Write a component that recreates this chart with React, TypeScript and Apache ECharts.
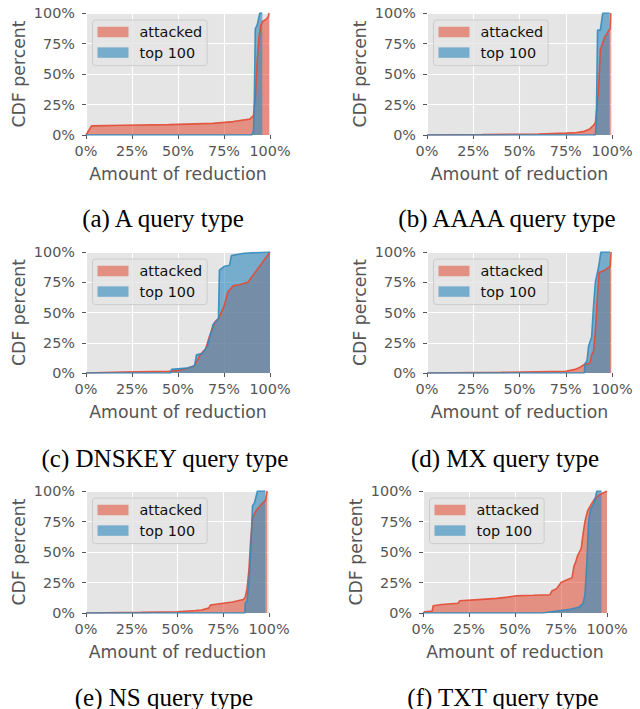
import React, { useEffect, useRef } from "react";
import * as echarts from "echarts";

// ---- data (x = amount of reduction %, y = CDF %) ----
const tickValues = [0, 25, 50, 75, 100];
const seriesNames = ["attacked", "top 100"];
const captions = [
  "(a) A query type",
  "(b) AAAA query type",
  "(c) DNSKEY query type",
  "(d) MX query type",
  "(e) NS query type",
  "(f) TXT query type",
];

const aAttacked = [[0, 0], [3, 7.5], [20, 8], [45, 8.5], [69, 9.5], [80, 11], [89, 13], [91, 16], [92, 30], [93, 60], [94, 80], [95, 90], [96, 93], [98, 95], [99, 97], [99.5, 100]];
const aTop = [[0, 0], [90, 0], [91, 3], [91.5, 30], [92, 87], [93, 90], [94.5, 100], [95.8, 100]];

const bAttacked = [[0, 0], [30, 0.3], [60, 0.8], [75, 1.5], [81, 2], [85, 3], [88, 5], [90, 8], [91, 10], [92, 25], [93, 45], [93.7, 70], [96, 80], [98, 85], [99, 87], [99.3, 100]];
const bTop = [[0, 0], [91, 0], [91.5, 10], [92.2, 86], [93.7, 86], [95, 100], [98.7, 100]];

const cAttacked = [[0, 0], [20, 0.8], [45, 1.5], [50, 2], [55, 4], [59, 6], [62, 15], [65, 20], [67, 30], [70, 42], [72, 45], [75, 55], [77, 67], [80, 72], [83, 73], [88, 75], [100, 100]];
const cTop = [[0, 0], [46, 0], [46.5, 3], [55, 4], [59, 6], [60, 15], [63, 16], [66, 22], [69, 40], [72, 45], [72.5, 85], [75, 88], [78, 89], [79, 97], [82, 98], [86, 99], [100, 100]];

const dAttacked = [[0, 0], [40, 0.5], [75, 1.5], [80, 3], [83, 5], [85, 7], [88, 8], [89, 15], [90, 18], [91, 35], [92, 60], [93, 83], [96, 85], [99, 88], [99.5, 100]];
const dTop = [[0, 0], [85, 0], [85.5, 8], [86.5, 10], [87.3, 22], [89, 30], [90, 55], [91, 75], [92.8, 88], [94, 100], [99, 100]];

const eAttacked = [[0, 0], [30, 0.5], [50, 1], [60, 2], [63, 2.5], [67, 4], [68, 6.5], [75, 8], [80, 9], [86, 11], [87, 13], [88, 20], [89, 35], [90, 60], [91, 78], [93, 84], [96.4, 90], [98, 92], [99, 100]];
const eTop = [[0, 0], [86.8, 0], [87, 8], [88, 10], [89, 25], [90, 50], [91, 88], [92, 90], [93.7, 100], [98, 100]];

const fAttacked = [[0, 0], [1, 1], [5, 1.5], [5.5, 6], [10, 7], [19, 8], [20, 10], [30, 11], [40, 12], [46, 13], [50, 14], [60, 14.5], [69, 15], [70, 18], [72.6, 20], [75, 25], [78, 27], [81, 29], [82, 38], [83, 42], [84, 47], [85, 50], [86, 53], [87, 65], [88, 75], [89.5, 84], [91, 88], [93, 93], [96, 97], [100, 100]];
const fTop = [[0, 0], [65, 0], [70, 1], [75, 2], [80, 3], [85, 5], [87, 8], [88, 15], [89, 40], [90, 75], [91, 85], [93, 90], [94.5, 100], [97, 100]];

const attackedSets = [aAttacked, bAttacked, cAttacked, dAttacked, eAttacked, fAttacked];
const topSets = [aTop, bTop, cTop, dTop, eTop, fTop];

// ---- layout ----
const grids = [
  { left: 86, top: 13, width: 184, height: 122 },
  { left: 427, top: 13, width: 185, height: 122 },
  { left: 86, top: 252, width: 184, height: 121 },
  { left: 427, top: 252, width: 185, height: 121 },
  { left: 86, top: 491, width: 183, height: 122 },
  { left: 423, top: 491, width: 184, height: 122 },
];
const captionPos = [
  [163, 218],
  [507, 218],
  [165, 458],
  [505, 458],
  [164, 697],
  [503, 697],
];

const RED = "#E24A33";
const BLUE = "#348ABD";
const RED_FILL = "rgba(226,74,51,0.55)";
const BLUE_FILL = "rgba(52,138,189,0.62)";
const FONT = "DejaVu Sans";

export default function App() {
  const ref = useRef<HTMLDivElement>(null);
  useEffect(() => {
    if (!ref.current) return;
    const chart = echarts.init(ref.current, undefined, { renderer: "svg" });
    const axisCommon = {
      type: "value" as const,
      min: 0,
      max: 100,
      interval: 25,
      axisLine: { show: false },
      axisTick: { show: true, length: 4, lineStyle: { color: "#555", width: 1 } },
      splitLine: { show: true, lineStyle: { color: "#ffffff", width: 1.1 } },
      nameTextStyle: { color: "#555", fontSize: 17.3, fontFamily: FONT },
    };
    const xAxis = grids.map((_, i) => ({
      ...axisCommon,
      gridIndex: i,
      name: "Amount of reduction",
      nameLocation: "middle",
      nameGap: 30,
      axisLabel: {
        formatter: (v: number) => v + "%",
        color: "#555",
        fontSize: 14.4,
        fontFamily: FONT,
        margin: 9,
        customValues: tickValues,
      },
    }));
    const yAxis = grids.map((_, i) => ({
      ...axisCommon,
      gridIndex: i,
      name: "CDF percent",
      nameLocation: "middle",
      nameGap: 59,
      axisLabel: {
        formatter: (v: number) => v + "%",
        color: "#555",
        fontSize: 14.4,
        fontFamily: FONT,
        margin: 11,
      },
    }));
    const series: any[] = [];
    const sets = [attackedSets, topSets];
    const lineColors = [RED, BLUE];
    const fillColors = [RED_FILL, BLUE_FILL];
    grids.forEach((_, i) => {
      // filled areas first (attacked under top 100)
      [0, 1].forEach((k) => {
        series.push({
          name: seriesNames[k],
          type: "line",
          xAxisIndex: i,
          yAxisIndex: i,
          data: sets[k][i],
          showSymbol: false,
          symbol: "none",
          silent: true,
          itemStyle: { color: lineColors[k] },
          lineStyle: { width: 0, opacity: 0 },
          areaStyle: { color: fillColors[k], opacity: 1 },
          z: 2 + k,
        });
      });
      // outlines on top
      [0, 1].forEach((k) => {
        series.push({
          name: seriesNames[k],
          type: "line",
          xAxisIndex: i,
          yAxisIndex: i,
          data: sets[k][i],
          showSymbol: false,
          symbol: "none",
          silent: true,
          itemStyle: { color: lineColors[k] },
          lineStyle: { color: lineColors[k], width: 1.6, opacity: 0.9 },
          z: 4 + k,
        });
      });
    });
    const legend = grids.map((g) => ({
      left: g.left + 6.5,
      top: g.top + 7,
      orient: "vertical",
      icon: "rect",
      itemWidth: 31,
      itemHeight: 10.5,
      itemGap: 6.6,
      padding: [5, 5, 6, 5],
      backgroundColor: "rgba(229,229,229,0.8)",
      borderColor: "#cccccc",
      borderWidth: 1,
      borderRadius: 3,
      selectedMode: false,
      textStyle: { fontSize: 14.4, color: "#111", fontFamily: FONT, padding: [0, 0, 0, 6] },
      data: [
        { name: seriesNames[0], itemStyle: { color: RED_FILL, borderWidth: 0 } },
        { name: seriesNames[1], itemStyle: { color: BLUE_FILL, borderWidth: 0 } },
      ],
      z: 10,
    }));
    const graphic = captions.map((c, i) => ({
      type: "text",
      x: captionPos[i][0],
      y: captionPos[i][1],
      style: {
        text: c,
        fill: "#000",
        font: '25px "Liberation Serif"',
        textAlign: "center",
        textVerticalAlign: "middle",
      },
    }));
    chart.setOption({
      animation: false,
      backgroundColor: "#ffffff",
      grid: grids.map((g) => ({ ...g, show: true, backgroundColor: "#E5E5E5", borderWidth: 0 })),
      xAxis,
      yAxis,
      legend,
      series,
      graphic,
    });
    return () => chart.dispose();
  }, []);
  return (
    <div
      ref={ref}
      style={{ position: "fixed", left: 0, top: 0, width: 640, height: 709, background: "#fff" }}
    />
  );
}
